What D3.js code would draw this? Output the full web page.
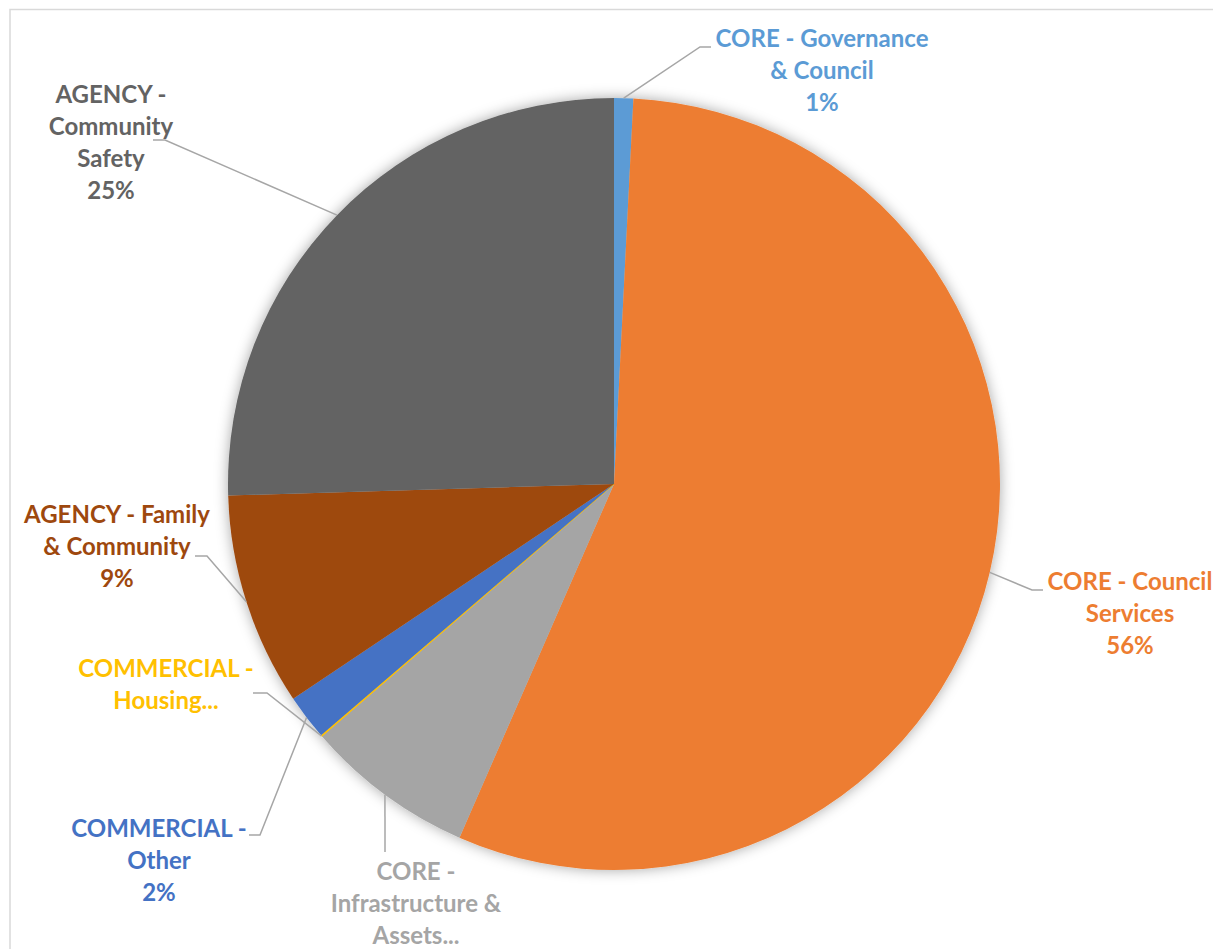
<!DOCTYPE html>
<html>
<head>
<meta charset="utf-8">
<script src="https://cdn.jsdelivr.net/npm/d3@7"></script>
<style>
  html, body { margin: 0; padding: 0; background: #fff; }
  svg { display: block; }
</style>
</head>
<body>
<svg id="chart" width="1213" height="949"></svg>
<script>
// ---- data ----
const categories = [
  "CORE - Governance & Council",
  "CORE - Council Services",
  "CORE - Infrastructure & Assets",
  "COMMERCIAL - Housing",
  "COMMERCIAL - Other",
  "AGENCY - Family & Community",
  "AGENCY - Community Safety"
];
const values = [0.8, 55.7, 7.1, 0.05, 1.9, 8.9, 25.45];
// displayed label lines (Excel truncates some labels)
const labelLines = [
  ["CORE - Governance", "& Council"],
  ["CORE - Council", "Services"],
  ["CORE -", "Infrastructure &", "Assets..."],
  ["COMMERCIAL -", "Housing..."],
  ["COMMERCIAL -", "Other"],
  ["AGENCY - Family", "& Community"],
  ["AGENCY -", "Community", "Safety"]
];
const showPercent = [true, true, false, false, true, true, true];

// ---- styles / layout ----
const colors = ["#5B9BD5", "#ED7D31", "#A5A5A5", "#FFC000", "#4472C4", "#9E480E", "#636363"];
const cx = 614, cy = 484, R = 386;
// label centre x, first baseline y, elbow point, end of horizontal leader
const labelLayout = [
  { x: 822, y: 47,  elbow: [700, 47],  end: [711, 47] },
  { x: 1130, y: 590, elbow: [1032, 590], end: [1043, 590] },
  { x: 416, y: 880, elbow: [385, 852], end: null },
  { x: 166, y: 677, elbow: [267, 693], end: [253, 693] },
  { x: 159, y: 837, elbow: [260, 835], end: [249, 835] },
  { x: 117, y: 523, elbow: [207, 556], end: [195, 556] },
  { x: 111, y: 103, elbow: [165, 140], end: [153, 140] }
];
const lineHeight = 32;

const svg = d3.select("#chart");

// chart frame
svg.append("rect")
  .attr("x", 10).attr("y", 9.5)
  .attr("width", 1215).attr("height", 960)
  .attr("fill", "none").attr("stroke", "#d9d9d9").attr("stroke-width", 1.5);

const defs = svg.append("defs");
const f = defs.append("filter").attr("id", "shadow")
  .attr("x", "-20%").attr("y", "-20%").attr("width", "140%").attr("height", "140%");
f.append("feDropShadow").attr("dx", 0).attr("dy", 0).attr("stdDeviation", 7)
  .attr("flood-color", "#000").attr("flood-opacity", 0.35);

const data = categories.map((c, i) => ({ name: c, value: values[i], i }));
const total = d3.sum(values);

const pie = d3.pie().value(d => d.value).sort(null);
const arcs = pie(data);
const arc = d3.arc().innerRadius(0).outerRadius(R);
const edgeArc = d3.arc().innerRadius(R).outerRadius(R);

const g = svg.append("g").attr("transform", `translate(${cx},${cy})`);
const slices = g.append("g").attr("filter", "url(#shadow)");
slices.selectAll("path")
  .data(arcs)
  .join("path")
  .attr("d", arc)
  .attr("fill", d => colors[d.data.i])
  .attr("stroke", d => d.data.value < 0.2 ? colors[d.data.i] : "none")
  .attr("stroke-width", 1);

// leader lines
const leaders = svg.append("g");
arcs.forEach(a => {
  const i = a.data.i;
  const L = labelLayout[i];
  const p = edgeArc.centroid(a);
  const pts = [[p[0] + cx, p[1] + cy], L.elbow];
  if (L.end) pts.push(L.end);
  leaders.append("path")
    .attr("d", d3.line()(pts))
    .attr("fill", "none")
    .attr("stroke", "#A6A6A6")
    .attr("stroke-width", 1.5);
});

// labels
const labels = svg.append("g")
  .attr("font-family", "Lato, 'Open Sans', sans-serif")
  .attr("font-weight", "bold")
  .attr("font-size", 24)
  .attr("text-anchor", "middle");
arcs.forEach(a => {
  const i = a.data.i;
  const L = labelLayout[i];
  const lines = labelLines[i].slice();
  if (showPercent[i]) lines.push(Math.round(a.data.value / total * 100) + "%");
  const t = labels.append("text").attr("fill", colors[i]);
  lines.forEach((ln, k) => {
    t.append("tspan").attr("x", L.x).attr("y", L.y + k * lineHeight).text(ln);
  });
});
</script>
</body>
</html>
